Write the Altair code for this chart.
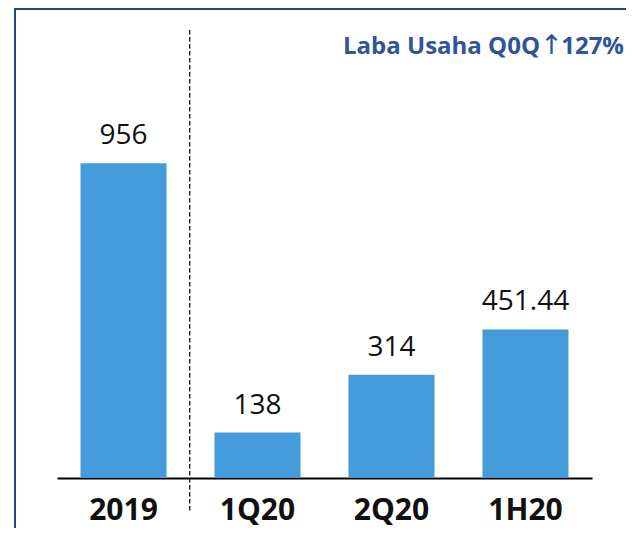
import altair as alt
import pandas as pd

categories = ["2019", "1Q20", "2Q20", "1H20"]
values = [956, 138, 314, 451.44]
value_labels = ["956", "138", "314", "451.44"]
headline_left = ["Laba Usaha Q0Q"]
headline_arrow = ["\u2191"]
headline_right = ["127%"]

df = pd.DataFrame({"cat": categories, "val": values, "lab": value_labels})

W, H = 535, 448
PAD = {"left": 49, "top": 22, "right": 34, "bottom": 50}

xscale = alt.Scale(domain=categories, paddingInner=0.358, paddingOuter=0.1755)
yscale = alt.Scale(domain=[0, 1361], nice=False, zero=True)

base = alt.Chart(df)

bars = base.mark_bar(color="#439BD9").encode(
    x=alt.X("cat:N", scale=xscale, sort=categories, title=None,
            axis=alt.Axis(labelAngle=0, labelFont="Open Sans", labelFontWeight="bold",
                          labelFontSize=30, labelColor="#111111", labelBaseline="alphabetic",
                          labelPadding=41, ticks=False, tickSize=0,
                          domainColor="#000000", domainWidth=2.2, grid=False)),
    y=alt.Y("val:Q", scale=yscale, axis=None),
)

texts = base.mark_text(font="Open Sans", fontSize=28, color="#111111",
                       baseline="alphabetic", dy=-19).encode(
    x=alt.X("cat:N", scale=xscale, sort=categories),
    y=alt.Y("val:Q", scale=yscale),
    text="lab:N",
)

one = pd.DataFrame({"t": [""]})

t_left = alt.Chart(pd.DataFrame({"t": headline_left})).mark_text(
    font="Open Sans", fontWeight="bold", fontSize=24, color="#2E5597",
    align="right", baseline="alphabetic").encode(
    x=alt.value(483), y=alt.value(24.3), text="t:N")
t_arrow = alt.Chart(pd.DataFrame({"t": headline_arrow})).mark_text(
    font="DejaVu Sans", fontSize=27, color="#2E5597",
    align="center", baseline="alphabetic").encode(
    x=alt.value(494.5), y=alt.value(24.3), text="t:N")
t_right = alt.Chart(pd.DataFrame({"t": headline_right})).mark_text(
    font="Open Sans", fontWeight="bold", fontSize=24, color="#2E5597",
    align="right", baseline="alphabetic").encode(
    x=alt.value(567), y=alt.value(24.3), text="t:N")

divider = alt.Chart(one).mark_rule(color="#111111", strokeWidth=1.3,
                                   strokeDash=[4.5, 2.5]).encode(
    x=alt.value(132.7), y=alt.value(0), y2=alt.value(480.7))

border_top = alt.Chart(one).mark_rule(color="#1F4A7C", strokeWidth=2).encode(
    x=alt.value(-43), x2=alt.value(W + PAD["right"] + 2), y=alt.value(-21))
border_left = alt.Chart(one).mark_rule(color="#1F4A7C", strokeWidth=2).encode(
    x=alt.value(-42), y=alt.value(-22), y2=alt.value(H + PAD["bottom"] + 2))

chart = alt.layer(border_top, border_left, divider, bars, texts,
                  t_left, t_arrow, t_right).properties(
    width=W, height=H,
    autosize=alt.AutoSizeParams(type="none"),
    padding=PAD,
    background="white",
).configure_view(stroke=None)

chart.save("out.html", embed_options={"renderer": "svg", "actions": False})
